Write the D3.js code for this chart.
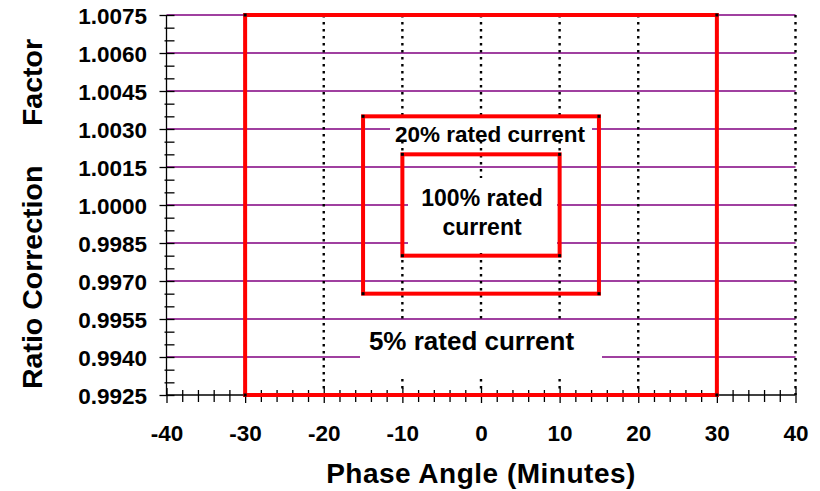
<!DOCTYPE html>
<html>
<head>
<meta charset="utf-8">
<script src="https://cdn.jsdelivr.net/npm/d3@7"></script>
<style>
  html, body { margin: 0; padding: 0; background: #fff; }
  svg { display: block; }
  text { font-family: "Liberation Sans", Arial, sans-serif; font-weight: bold; fill: #000; }
</style>
</head>
<body>
<svg id="chart" width="820" height="491"></svg>
<script>
// ---- data ----
const xMajorTicks = [-40, -30, -20, -10, 0, 10, 20, 30, 40];
const xMinorTicks = [-38,-36,-34,-32,-28,-26,-24,-22,-18,-16,-14,-12,-8,-6,-4,-2,2,4,6,8,12,14,16,18,22,24,26,28,32,34,36,38];
const yMajorTicks = [0.9925, 0.9940, 0.9955, 0.9970, 0.9985, 1.0000, 1.0015, 1.0030, 1.0045, 1.0060, 1.0075];
const yMinorTicks = [0.9930,0.9935,0.9945,0.9950,0.9960,0.9965,0.9975,0.9980,0.9990,0.9995,1.0005,1.0010,1.0020,1.0025,1.0035,1.0040,1.0050,1.0055,1.0065,1.0070];
const boxNames = ["5% rated current", "20% rated current", "100% rated current"];
const phaseLimit = [30, 15, 10];          // +/- minutes
const ratioLimit = [0.0075, 0.0035, 0.0020]; // +/- from 1.0000
const xTitle = "Phase Angle (Minutes)";
const yTitleA = "Ratio Correction";
const yTitleB = "Factor";

// ---- layout ----
const svg = d3.select("#chart");
const x = d3.scaleLinear().domain([-40, 40]).range([166.5, 795.5]);
const y = d3.scaleLinear().domain([0.9925, 1.0075]).range([395, 15]);

// horizontal purple gridlines
svg.append("g").selectAll("line")
  .data(yMajorTicks.filter(d => d > 0.9925 + 1e-9))
  .join("line")
  .attr("x1", x(-40)).attr("x2", x(40))
  .attr("y1", d => y(d)).attr("y2", d => y(d))
  .attr("stroke", "#800080").attr("stroke-width", 1.3);

// vertical dotted gridlines
svg.append("g").selectAll("line")
  .data(xMajorTicks.filter(d => d > -40))
  .join("line")
  .attr("x1", d => x(d)).attr("x2", d => x(d))
  .attr("y1", y(1.0075)).attr("y2", y(0.9925))
  .attr("stroke", "#000").attr("stroke-width", 2.4)
  .attr("stroke-dasharray", "2.5,4.5");

// white backgrounds behind labels
const bg = svg.append("g");
bg.append("rect").attr("x", 360).attr("y", 322).attr("width", 242).attr("height", 54).attr("fill", "#fff");
bg.append("rect").attr("x", 390).attr("y", 118).attr("width", 202).attr("height", 23).attr("fill", "#fff");
bg.append("rect").attr("x", 408).attr("y", 178).attr("width", 149).attr("height", 75).attr("fill", "#fff");

// axes
const xAxisMajor = d3.axisBottom(x).tickValues(xMajorTicks).tickSize(8).tickFormat(d => d);
const xAxisMinor = d3.axisBottom(x).tickValues(xMinorTicks).tickSize(7).tickFormat("");
const yAxisMajor = d3.axisLeft(y).tickValues(yMajorTicks).tickSize(7).tickFormat(d3.format(".4f"));
const yAxisMinor = d3.axisLeft(y).tickValues(yMinorTicks).tickSize(2).tickFormat("");

function styleAxis(g, tickStart, tickEnd, horizontal) {
  g.select(".domain").remove();
  g.selectAll(".tick line")
    .attr("stroke", "#000").attr("stroke-width", 1.3)
    .each(function() {
      const l = d3.select(this);
      if (horizontal) { l.attr("y1", tickStart).attr("y2", tickEnd); }
      else { l.attr("x1", tickStart).attr("x2", tickEnd); }
    });
}

const gxMin = svg.append("g").attr("transform", `translate(0,${y(0.9925)})`).call(xAxisMinor);
styleAxis(gxMin, -5, 7, true);
const gxMaj = svg.append("g").attr("transform", `translate(0,${y(0.9925)})`).call(xAxisMajor);
styleAxis(gxMaj, -7, 8, true);
gxMaj.selectAll(".tick text")
  .attr("y", 46).attr("dy", 0)
  .style("font-size", "22.5px").style("font-family", "Liberation Sans, Arial, sans-serif")
  .style("font-weight", "bold").attr("fill", "#000");

const gyMin = svg.append("g").attr("transform", `translate(${x(-40)},0)`).call(yAxisMinor);
styleAxis(gyMin, -2, 8, false);
const gyMaj = svg.append("g").attr("transform", `translate(${x(-40)},0)`).call(yAxisMajor);
styleAxis(gyMaj, -7, 8, false);
gyMaj.selectAll(".tick text")
  .attr("x", -19.5).attr("dy", "0.36em")
  .style("font-size", "22.5px").style("font-family", "Liberation Sans, Arial, sans-serif")
  .style("font-weight", "bold").attr("fill", "#000");

// axis lines
svg.append("line").attr("x1", x(-40)).attr("x2", x(40)).attr("y1", y(0.9925)).attr("y2", y(0.9925))
  .attr("stroke", "#000").attr("stroke-width", 1.3);
svg.append("line").attr("x1", x(-40)).attr("x2", x(-40)).attr("y1", y(1.0075)).attr("y2", y(0.9925))
  .attr("stroke", "#000").attr("stroke-width", 1.3);

// red limit boxes
const boxes = boxNames.map((n, i) => ({ name: n, p: phaseLimit[i], r: ratioLimit[i] }));
svg.append("g").selectAll("rect")
  .data(boxes)
  .join("rect")
  .attr("x", d => x(-d.p)).attr("y", d => y(1 + d.r))
  .attr("width", d => x(d.p) - x(-d.p)).attr("height", d => y(1 - d.r) - y(1 + d.r))
  .attr("fill", "none").attr("stroke", "#ff0000").attr("stroke-width", 4);

// corner markers
const corners = [];
boxes.forEach(d => {
  [[-d.p, 1 + d.r], [d.p, 1 + d.r], [d.p, 1 - d.r], [-d.p, 1 - d.r]].forEach(c => corners.push(c));
});
svg.append("g").selectAll("rect")
  .data(corners)
  .join("rect")
  .attr("x", d => x(d[0]) - 1.5).attr("y", d => y(d[1]) - 1.5)
  .attr("width", 3).attr("height", 3).attr("fill", "#000");

// box labels
svg.append("text").attr("x", 471.5).attr("y", 350).attr("text-anchor", "middle")
  .style("font-size", "26px").text(boxNames[0]);
svg.append("text").attr("x", 490).attr("y", 142).attr("text-anchor", "middle")
  .style("font-size", "22.5px").text(boxNames[1]);
const t100 = svg.append("text").attr("text-anchor", "middle").style("font-size", "23px");
t100.append("tspan").attr("x", 482).attr("y", 206).text("100% rated");
t100.append("tspan").attr("x", 482).attr("y", 235).text("current");

// axis titles
svg.append("text").attr("x", x(0)).attr("y", 483).attr("text-anchor", "middle")
  .style("font-size", "28px").style("letter-spacing", "0.5px").text(xTitle);
svg.append("text")
  .attr("transform", "translate(42,214) rotate(-90)")
  .attr("text-anchor", "middle")
  .style("font-size", "28.5px")
  .text(yTitleA + "\u00A0\u00A0\u00A0\u00A0\u00A0" + yTitleB);
</script>
</body>
</html>
